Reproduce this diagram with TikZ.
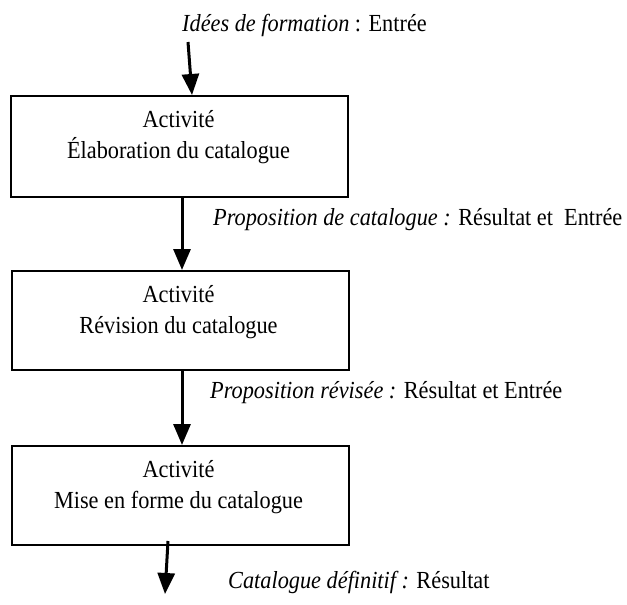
\documentclass[tikz,border=0pt]{standalone}
\usepackage{fontspec}
\setmainfont{Liberation Serif}
\usetikzlibrary{arrows.meta,calc}
\newcommand\tallt[1]{\scalebox{1}[1.1]{#1}}
\begin{document}
\begin{tikzpicture}[x=1pt,y=-1pt,
  font=\fontsize{22.3}{26}\selectfont,
  actbox/.style={draw,line width=2pt,minimum width=337pt,inner sep=0pt},
  txt/.style={inner sep=0pt,anchor=base},
  lbl/.style={inner sep=0pt,anchor=base west},
  arr/.style={line width=3pt,-{Triangle[length=21pt,width=17pt]}}]
\useasboundingbox (0,0) rectangle (627,605);
% boxes
\node[actbox,minimum height=101pt] (b1) at (179.5,146.5) {};
\node[actbox,minimum height=99pt] (b2) at (180,320.5) {};
\node[actbox,minimum height=99pt] (b3) at (180,495.5) {};
% box texts
\node[txt] (b1a) at (178.5,127) {\tallt{Activité}};
\node[txt] (b1b) at (178.5,158) {\tallt{Élaboration du catalogue}};
\node[txt] (b2a) at (178.5,302) {\tallt{Activité}};
\node[txt] (b2b) at (178.5,333) {\tallt{Révision du catalogue}};
\node[txt] (b3a) at (178.5,477) {\tallt{Activité}};
\node[txt] (b3b) at (178.5,508) {\tallt{Mise en forme du catalogue}};
% labels
\node[lbl] (l1) at (182,31) {\tallt{\textit{Idées de formation} : Entrée}};
\node[lbl] (l2) at (213,225) {\tallt{\textit{Proposition de catalogue :} Résultat et\ \ Entrée}};
\node[lbl] (l3) at (210,398) {\tallt{\textit{Proposition révisée :} Résultat et Entrée}};
\node[lbl] (l4) at (228,588) {\tallt{\textit{Catalogue définitif :} Résultat}};
% connectors
\coordinate (in) at (188,42);
\coordinate (out) at (165,594);
\draw[arr] (in) -- ($(b1.north)+(12.5,0)$);
\draw[arr] ($(b1.south)+(2.5,0)$) -- ($(b2.north)+(2,0)$);
\draw[arr] ($(b2.south)+(2,0)$) -- ($(b3.north)+(2,0)$);
\draw[arr] ($(b3.south)+(-12,-5)$) -- (out);
\end{tikzpicture}
\end{document}
